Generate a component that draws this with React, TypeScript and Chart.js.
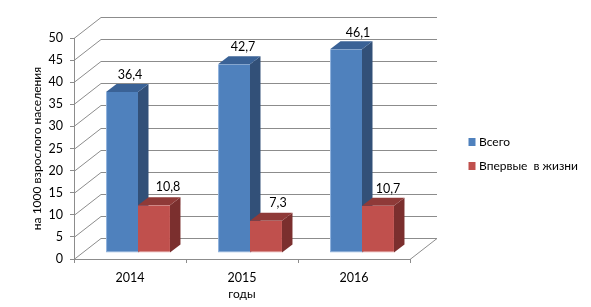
import React, { useEffect, useRef } from "react";
import { Chart, registerables } from "chart.js";

Chart.register(...registerables);

const years = ["2014", "2015", "2016"];
const totalValues = [36.4, 42.7, 46.1];
const firstTimeValues = [10.8, 7.3, 10.7];
const seriesNames = ["Всего", "Впервые  в жизни"];
const yTitle = "на 1000 взрослого населения";
const xTitle = "годы";

const FONT = "Lato";
const DEPTH = { wallX: 27, wallY: -21, barX: 10.5, barY: -8, shiftX: 8, shiftY: -6 };
const faces = [
  { side: "#325078", top: "#3a6296" },
  { side: "#7b2f2e", top: "#8f3a38" },
];
const labelOffsets = [
  [[8, -17], [9, -17], [12, -16.5]],
  [[14, -18.5], [12, -18], [10, -17]],
];

const threeD = {
  id: "threeD",
  afterLayout(chart: any) {
    const l = chart.legend;
    l.left = 459;
    l.right = 591;
    l.width = 132;
    l.top = 124;
    l.bottom = 190;
    l.height = 66;
  },
  beforeDatasetsDraw(chart: any) {
    const { ctx, chartArea, scales } = chart;
    ctx.save();
    ctx.strokeStyle = "#8c8c8c";
    ctx.lineWidth = 1;
    for (const tick of scales.y.ticks) {
      const y = Math.round(scales.y.getPixelForValue(tick.value)) + 0.5;
      ctx.beginPath();
      ctx.moveTo(chartArea.left, y);
      ctx.lineTo(chartArea.left + DEPTH.wallX, y + DEPTH.wallY);
      ctx.stroke();
      ctx.beginPath();
      ctx.lineWidth = 1.2;
      ctx.moveTo(chartArea.left + DEPTH.wallX, y + DEPTH.wallY);
      ctx.lineTo(chartArea.right + DEPTH.wallX, y + DEPTH.wallY);
      ctx.stroke();
      ctx.lineWidth = 1;
    }
    const y0 = Math.round(scales.y.getPixelForValue(0)) + 0.5;
    ctx.beginPath();
    ctx.moveTo(chartArea.right, y0);
    ctx.lineTo(chartArea.right + DEPTH.wallX, y0 + DEPTH.wallY);
    ctx.stroke();
    // Side and top faces of the bars, back series first; the fronts are the library's bars.
    ctx.translate(DEPTH.shiftX, DEPTH.shiftY);
    faces.forEach((c, i) => {
      for (const bar of chart.getDatasetMeta(i).data as any[]) {
        const right = bar.x + bar.width / 2;
        const left = bar.x - bar.width / 2;
        ctx.fillStyle = c.side;
        ctx.beginPath();
        ctx.moveTo(right, bar.y);
        ctx.lineTo(right + DEPTH.barX, bar.y + DEPTH.barY);
        ctx.lineTo(right + DEPTH.barX, bar.base + DEPTH.barY);
        ctx.lineTo(right, bar.base);
        ctx.closePath();
        ctx.fill();
        ctx.fillStyle = c.top;
        ctx.beginPath();
        ctx.moveTo(left, bar.y);
        ctx.lineTo(left + DEPTH.barX, bar.y + DEPTH.barY);
        ctx.lineTo(right + DEPTH.barX, bar.y + DEPTH.barY);
        ctx.lineTo(right, bar.y);
        ctx.closePath();
        ctx.fill();
      }
    });
    ctx.restore();
  },
  beforeDatasetDraw(chart: any) {
    chart.ctx.save();
    chart.ctx.translate(DEPTH.shiftX, DEPTH.shiftY);
  },
  afterDatasetDraw(chart: any) {
    chart.ctx.restore();
  },
  afterDatasetsDraw(chart: any) {
    const { ctx } = chart;
    ctx.save();
    ctx.fillStyle = "#000";
    ctx.font = `12.5px ${FONT}`;
    ctx.textAlign = "center";
    ctx.textBaseline = "middle";
    chart.data.datasets.forEach((ds: any, i: number) => {
      chart.getDatasetMeta(i).data.forEach((bar: any, j: number) => {
        const text = String(ds.data[j]).replace(".", ",");
        const [dx, dy] = labelOffsets[i][j];
        ctx.fillText(text, bar.x + DEPTH.shiftX + dx, bar.y + DEPTH.shiftY + dy);
      });
    });
    ctx.restore();
  },
};

export default function App() {
  const ref = useRef<HTMLCanvasElement>(null);
  useEffect(() => {
    const chart = new Chart(ref.current as HTMLCanvasElement, {
      type: "bar",
      data: {
        labels: years,
        datasets: [
          {
            label: seriesNames[0],
            data: totalValues,
            backgroundColor: "#4f81bd",
            borderColor: "#8fb2dd",
            borderWidth: { left: 1, bottom: 1, top: 0, right: 0 },
            borderSkipped: false,
            clip: false,
          },
          {
            label: seriesNames[1],
            data: firstTimeValues,
            backgroundColor: "#c0504d",
            borderColor: "#e3a5a3",
            borderWidth: { left: 0, bottom: 1, top: 0, right: 0 },
            borderSkipped: false,
            clip: false,
          },
        ],
      } as any,
      options: {
        responsive: false,
        animation: false,
        layout: { padding: { top: 38, right: 181, left: 0, bottom: 0 } },
        datasets: { bar: { categoryPercentage: 0.571, barPercentage: 1 } },
        plugins: {
          tooltip: { enabled: false },
          legend: {
            position: "chartArea",
            align: "start",
            labels: {
              padding: 12,
              boxWidth: 2,
              boxHeight: 3,
              color: "#000",
              font: { family: FONT, size: 12 },
              generateLabels: (c: any) =>
                c.data.datasets.map((d: any, i: number) => ({
                  text: d.label,
                  fillStyle: d.backgroundColor,
                  strokeStyle: d.backgroundColor,
                  lineWidth: 5,
                  datasetIndex: i,
                })),
            },
          },
        },
        scales: {
          x: {
            afterFit: (s: any) => { s.height = 48; },
            border: { color: "#8c8c8c" },
            grid: { drawOnChartArea: false, color: "#8c8c8c", tickLength: 4 },
            ticks: { color: "#000", font: { family: FONT, size: 12.5 }, padding: 7.5, maxRotation: 0 },
            title: { display: true, text: xTitle, color: "#000", font: { family: FONT, size: 12 }, padding: { top: 0, bottom: 6 } },
          },
          y: {
            min: 0,
            max: 50,
            afterFit: (s: any) => { s.width = 74; },
            border: { color: "#8c8c8c" },
            grid: { drawOnChartArea: false, color: "#8c8c8c", tickLength: 4 },
            ticks: { stepSize: 5, color: "#000", font: { family: FONT, size: 12.5 }, padding: 7 },
            title: { display: true, text: yTitle, color: "#000", font: { family: FONT, size: 12 }, padding: { top: 30, bottom: 0 } },
          },
        },
      } as any,
      plugins: [threeD],
    });
    return () => chart.destroy();
  }, []);
  return (
    <canvas
      ref={ref}
      width={591}
      height={307}
      style={{ position: "absolute", left: 0, top: 0, display: "block" }}
    />
  );
}
